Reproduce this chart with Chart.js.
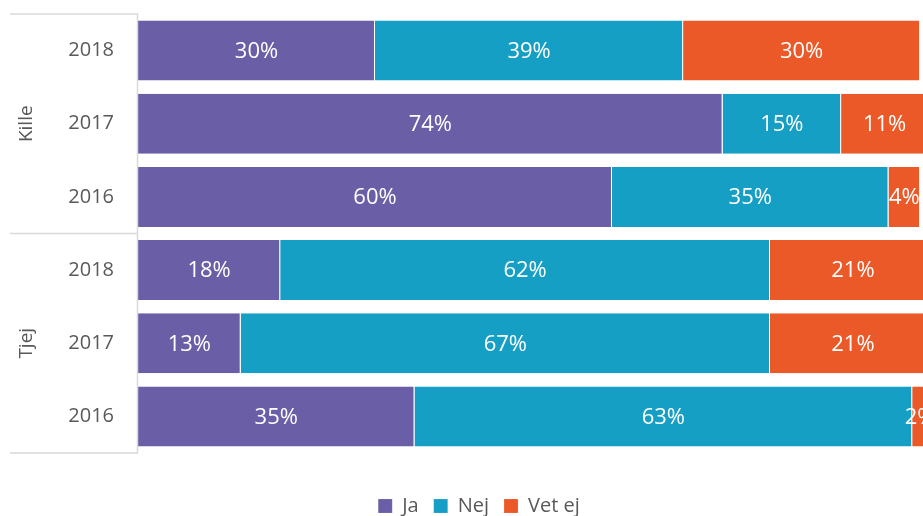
<!DOCTYPE html>
<html lang="sv">
<head>
<meta charset="UTF-8" />
<title>Ja / Nej / Vet ej</title>
<script src="https://cdn.jsdelivr.net/npm/chart.js"></script>
<style>
  html, body { margin: 0; padding: 0; background: #fff; overflow: hidden; }
  #wrap { width: 958px; height: 516px; }
</style>
</head>
<body>
<div id="wrap"><canvas id="chart"></canvas></div>
<script>
  const years = ['2018', '2017', '2016', '2018', '2017', '2016'];
  const groups = ['Kille', 'Tjej'];
  const ja    = [30, 74, 60, 18, 13, 35];
  const nej   = [39, 15, 35, 62, 67, 63];
  const vetEj = [30, 11, 4, 21, 21, 2];

  const grey = '#595959';
  const font = '"Open Sans", "Noto Sans", sans-serif';

  // draws the % labels inside each bar segment
  const barLabels = {
    id: 'barLabels',
    afterDatasetsDraw(chart) {
      const ctx = chart.ctx;
      ctx.save();
      ctx.fillStyle = '#fff';
      ctx.font = '22px ' + font;
      ctx.textAlign = 'center';
      ctx.textBaseline = 'middle';
      chart.data.datasets.forEach((ds, i) => {
        chart.getDatasetMeta(i).data.forEach((bar, j) => {
          const p = bar.getCenterPoint();
          ctx.fillText(ds.data[j] + '%', p.x, p.y + 1);
        });
      });
      ctx.restore();
    }
  };

  // group frame and Kille / Tjej labels on the left
  const groupAxis = {
    id: 'groupAxis',
    afterDraw(chart) {
      const ctx = chart.ctx;
      const y = chart.scales.y;
      const area = chart.chartArea;
      const step = y.getPixelForValue(1) - y.getPixelForValue(0);
      ctx.save();
      ctx.strokeStyle = '#d9d9d9';
      ctx.lineWidth = 1.5;
      ctx.beginPath();
      ctx.moveTo(area.left - 0.5, area.top);
      ctx.lineTo(area.left - 0.5, area.bottom);
      [0, 3, 6].forEach(k => {
        const py = y.getPixelForValue(k) - step / 2;
        ctx.moveTo(10, py);
        ctx.lineTo(area.left, py);
      });
      ctx.stroke();
      ctx.fillStyle = grey;
      ctx.font = '19px ' + font;
      ctx.textAlign = 'center';
      ctx.textBaseline = 'middle';
      groups.forEach((g, k) => {
        const py = y.getPixelForValue(k * 3 + 1);
        ctx.save();
        ctx.translate(27, py);
        ctx.rotate(-Math.PI / 2);
        ctx.fillText(g, 0, 0);
        ctx.restore();
      });
      ctx.restore();
    }
  };

  new Chart(document.getElementById('chart'), {
    type: 'bar',
    data: {
      labels: years,
      datasets: [
        { label: 'Ja', data: ja, backgroundColor: '#6a5ea6' },
        { label: 'Nej', data: nej, backgroundColor: '#169fc4' },
        { label: 'Vet ej', data: vetEj, backgroundColor: '#eb5929' }
      ]
    },
    options: {
      indexAxis: 'y',
      responsive: true,
      maintainAspectRatio: false,
      animation: false,
      layout: { padding: { top: 14, right: 30, bottom: -10, left: 30 } },
      datasets: {
        bar: {
          categoryPercentage: 1,
          barPercentage: 0.82,
          borderWidth: { right: 1, left: 0, top: 0, bottom: 0 },
          borderColor: 'rgba(255,255,255,0.5)',
          borderSkipped: false
        }
      },
      scales: {
        x: {
          stacked: true, min: 0, max: 100,
          ticks: { display: false },
          grid: { display: false },
          border: { display: false },
          afterFit(scale) { scale.height = 28; }
        },
        y: {
          stacked: true,
          grid: { display: false },
          border: { display: false },
          ticks: { color: grey, font: { family: font, size: 20 }, padding: 16 },
          afterFit(scale) {
            scale.width = 108;
            scale.paddingTop = 0;
            scale.paddingBottom = 0;
          }
        }
      },
      plugins: {
        legend: {
          position: 'bottom',
          labels: {
            color: grey,
            font: { family: font, size: 20 },
            boxWidth: 14,
            boxHeight: 14,
            padding: 15
          }
        },
        tooltip: { enabled: false }
      }
    },
    plugins: [barLabels, groupAxis]
  });
</script>
</body>
</html>
